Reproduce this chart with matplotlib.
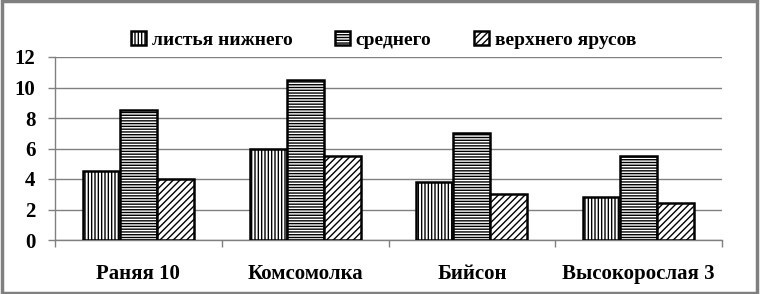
import numpy as np
import matplotlib.pyplot as plt
from matplotlib.patches import Rectangle

plt.rcParams['font.family'] = 'serif'
plt.rcParams['font.serif'] = ['Liberation Serif', 'DejaVu Serif']
plt.rcParams['font.weight'] = 'bold'
plt.rcParams['hatch.linewidth'] = 1.0

sorta = ['Раняя 10', 'Комсомолка', 'Бийсон', 'Высокорослая 3']
nizh = [4.5, 6.0, 3.8, 2.8]
sred = [8.5, 10.5, 7.0, 5.5]
verh = [4.0, 5.5, 3.0, 2.4]
names = ['листья нижнего', 'среднего', 'верхнего ярусов']
yticks = [0, 2, 4, 6, 8, 10, 12]

fig = plt.figure(figsize=(7.6, 2.94), dpi=100)
ax = fig.add_axes([55/760, 1-240/294, 667/760, 183/294])

x = np.arange(len(sorta))
w = 1/4.5
hatches = ['|||||', '------', '/////']
for i, (vals, h, nm) in enumerate(zip([nizh, sred, verh], hatches, names)):
    ax.bar(x + (i-1)*w, vals, w, color='white', edgecolor='black',
           linewidth=1.8, hatch=h, label=nm, zorder=3)

ax.set_xlim(-0.5, len(sorta)-0.5)
ax.set_ylim(0, 12)
ax.set_yticks(yticks)
ax.set_yticklabels([str(v) for v in yticks], fontsize=15, fontweight='bold')
ax.set_xticks(x)
ax.set_xticklabels(sorta, fontsize=15, fontweight='bold')
ax.set_xticks(np.arange(len(sorta)+1)-0.5, minor=True)
ax.tick_params(axis='x', which='major', length=0, pad=17)
ax.tick_params(axis='x', which='minor', length=5, color='#808080', width=1)
ax.tick_params(axis='y', length=5, color='#808080', width=1, pad=9)

ax.grid(axis='y', color='#808080', linewidth=1, zorder=0)
for s in ['top', 'right']:
    ax.spines[s].set_visible(False)
for s in ['left', 'bottom']:
    ax.spines[s].set_color('#808080')
    ax.spines[s].set_linewidth(1)

leg = fig.legend(loc='center', bbox_to_anchor=(0.505, 1-40/294), ncol=3,
                 frameon=False, fontsize=14, handlelength=0.75, handleheight=0.75,
                 handletextpad=0.3, columnspacing=2.2, borderaxespad=0)
for p in leg.get_patches():
    p.set_linewidth(1.8)

fig.patches.append(Rectangle((0.002, 0.003), 0.994, 0.994, transform=fig.transFigure,
                             fill=False, edgecolor='#808080', linewidth=2.5))

fig.savefig('out.png', dpi=100)
